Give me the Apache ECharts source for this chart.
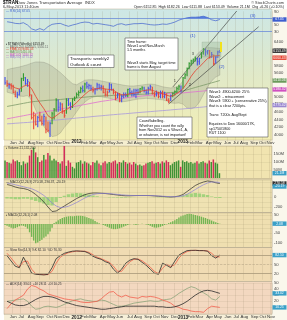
<!DOCTYPE html>
<html><head><meta charset="utf-8">
<script src="https://cdn.jsdelivr.net/npm/echarts@6/dist/echarts.min.js"></script>
<style>html,body{margin:0;padding:0;background:#fff;overflow:hidden}#c{width:287px;height:320px}</style>
</head><body><div id="c"></div>
<script>
// ---------------- data ----------------
const startWeek = '2011-05-06';
const weekCount = 131;
const monthNames = ['Jan','Feb','Mar','Apr','May','Jun','Jul','Aug','Sep','Oct','Nov','Dec'];

const highs = [5500,5420,5350,5340,5300,5150,5120,5200,5480,5600,
5500,5450,5380,5050,4600,4550,4500,4600,4500,4550,
4480,4350,4350,4600,4700,4950,4920,4850,4820,4650,
4950,4950,4850,4950,5000,5100,5150,5250,5280,5350,
5380,5330,5300,5250,5220,5350,5330,5300,5280,5200,
5150,5350,5330,5200,5120,5100,5080,5050,5100,5100,
5200,5220,5150,5200,5200,5200,5220,5260,5250,5180,
5250,5300,5250,5120,5150,5120,5150,5150,5120,5080,
4950,5050,5100,5150,5250,5300,5280,5500,5600,5750,
5880,5950,5980,6030,6000,6000,6150,6250,6230,6200,
6200,6150,6080,6050,6180,6200];
const lows = [5300,5250,5200,5180,5080,4980,4950,5020,5120,5400,
5300,5250,5000,4400,4150,4250,4200,4350,4250,4250,
4050,4080,3950,4280,4400,4600,4600,4620,4550,4450,
4550,4750,4650,4700,4880,4950,5000,5080,5100,5100,
5200,5180,5150,5100,5050,5150,5180,5150,5080,5000,
5000,5100,5150,5050,4900,4950,4850,4850,4950,4980,
4980,5050,5000,5000,4950,5050,5080,5150,5100,5050,
5050,5150,5050,4980,5000,4950,4950,4950,4950,4880,
4820,4880,4980,5020,5080,5150,5100,5200,5450,5520,
5700,5800,5850,5900,5800,5820,5980,6080,6050,6080,
5980,6000,5800,5850,6000,6120];
const closes = [5350,5280,5300,5250,5100,5000,5050,5120,5460,5480,
5330,5380,5040,4450,4500,4280,4450,4380,4300,4480,
4150,4120,4300,4550,4650,4900,4720,4800,4620,4500,
4900,4800,4720,4930,4950,5050,5100,5200,5150,5320,
5250,5280,5200,5150,5180,5300,5220,5250,5100,5050,
5100,5300,5180,5100,4950,5050,4900,5000,5050,5020,
5180,5100,5080,5050,5150,5100,5200,5220,5150,5100,
5200,5250,5080,5050,5080,5000,5100,5000,5050,4900,
4880,5020,5080,5120,5200,5250,5150,5480,5560,5720,
5850,5920,5950,5980,5900,5980,6120,6200,6150,6180,
6020,6080,5850,6020,6150,6180];
// Elder impulse colour of each weekly bar: g = green, r = red, b = blue
const impulse = 'brbrrrbbgg'+'bbrrrrbrrb'+'rrbgggbbrr'+'gbbgggggbg'+'bbbrbbbbrr'+'rbbrrbrbbb'+'gbbbbbggbb'+'bbrrbrbrbr'+'rbggggbggg'+'ggggbbggbb'+'rbrbbb';
const volumes = [55,50,48,45,58,52,55,50,40,52,45,48,
70,88,95,80,65,
50,55,72,58,78,
70,55,60,55,50,45,52,100,
38,55,48,35,30,
48,50,55,45,52,48,45,40,50,48,55,45,40,48,52,45,
50,48,52,55,45,50,48,55,50,45,48,42,50,45,40,42,38,40,45,48,
50,52,45,48,50,45,52,48,55,50,40,45,50,52,55,35,
55,50,52,48,50,45,48,52,45,50,52,48,45,55,50,58,48,45,15];
const hist3 = [-5,-10,-15,-20,-25,-22,-18,-12,-8,-10,-15,
-25,-45,-70,-90,-105,-100,-92,-85,-75,-68,-55,-40,-20,
5,12,20,28,33,37,40,42,43,42,43,45,45,
45,43,41,37,33,29,25,17,9,4,
0,-5,-10,-15,-20,-25,-28,-28,-26,-23,-19,-14,-9,
-5,-1,0,-3,-5,-3,0,2,0,-2,-5,
-10,-15,-19,-20,-18,-15,-10,-5,-2,
5,10,15,20,28,35,42,47,51,54,56,54,52,
49,46,43,40,36,33,28,24,19,14,10,5,2];

// indicator lines read every second week (weeks 1,3,5,...,105)
const rsi14 = [60,58,55,54,57,50,38,34,39,34,45,52,54,55,50,46,50,53,57,59,58,53,55,53,51,49,46,52,54,50,52,54,54,55,53,51,50,51,53,52,55,59,65,69,72,74,74,75,77,73,66,63,67];
const ema13 = [5330,5290,5220,5190,5260,5300,5200,5000,4830,4680,4500,4430,4500,4580,4630,4690,4750,4840,4950,5050,5140,5180,5200,5220,5190,5180,5160,5090,5040,5040,5070,5080,5100,5140,5160,5170,5140,5100,5070,5030,5000,5040,5110,5200,5350,5520,5660,5760,5870,5980,6040,6050,6060];
const ma50 = [4740,4760,4780,4800,4820,4840,4860,4870,4880,4890,4900,4905,4910,4920,4930,4940,4950,4960,4970,4980,4990,5000,5005,5010,5015,5020,5025,5030,5030,5035,5040,5045,5050,5055,5060,5070,5080,5085,5090,5095,5100,5110,5120,5140,5170,5200,5230,5260,5290,5320,5350,5380,5410];
const ma100 = [4420,4440,4460,4480,4500,4520,4540,4560,4580,4600,4615,4630,4650,4670,4690,4710,4730,4750,4770,4790,4810,4830,4850,4870,4885,4900,4915,4930,4945,4960,4975,4990,5000,5010,5020,5030,5040,5050,5060,5070,5075,5080,5085,5090,5100,5110,5120,5130,5140,5150,5160,5170,5180];
const ma200 = [4290,4295,4305,4312,4320,4326,4335,4345,4352,4360,4372,4380,4388,4398,4410,4418,4428,4440,4450,4458,4468,4480,4490,4498,4508,4518,4527,4536,4545,4553,4562,4572,4580,4590,4598,4606,4615,4624,4632,4640,4650,4660,4668,4676,4686,4696,4706,4716,4726,4738,4750,4762,4775];
const bbUpper = [5690,5720,5740,5760,5790,5820,5860,5890,5890,5880,5840,5780,5700,5620,5520,5420,5330,5300,5360,5420,5430,5430,5420,5400,5380,5360,5340,5320,5300,5280,5270,5270,5280,5295,5310,5320,5310,5280,5250,5230,5220,5230,5270,5400,5650,5850,6030,6150,6230,6260,6260,6250,6240];
const bbLower = [5110,5080,5040,5010,5000,5020,4900,4650,4420,4220,4080,3960,3980,4050,4200,4320,4450,4600,4750,4850,4930,4980,5000,4990,4970,4950,4920,4880,4860,4870,4890,4910,4930,4940,4950,4940,4930,4920,4910,4880,4830,4820,4830,4800,4700,4680,4720,4850,5050,5250,5400,5500,5550];
const macdLine = [250,230,200,180,170,150,110,50,-20,-100,-200,-290,-280,-230,-180,-130,-80,-30,10,45,70,80,80,75,70,60,50,40,30,25,25,28,30,30,30,28,22,15,10,5,0,5,20,50,110,170,230,270,300,320,310,285,270];
const macdSignal = [280,265,245,225,205,185,165,130,85,30,-40,-120,-180,-210,-205,-185,-150,-110,-65,-20,20,50,65,72,72,68,60,52,44,37,32,30,30,30,30,29,26,21,16,11,6,5,10,25,55,100,150,200,245,280,300,300,290];
const stoK = [80,62,45,40,75,50,22,18,17,16,18,40,70,80,88,92,95,96,95,94,88,78,72,68,60,55,35,22,35,55,65,70,68,58,48,35,22,18,55,48,40,62,82,90,97,98,98,97,97,95,80,72,82];
const stoD = [88,72,55,42,60,62,35,20,18,17,17,28,55,75,84,90,93,95,95,95,91,83,75,70,64,58,45,28,28,45,60,68,69,63,53,42,28,20,38,52,44,50,72,86,94,97,98,97,97,96,88,76,76];
const adx = [20,17,14,13,13,15,19,23,26,28,28,27,25,22,19,17,15,13,12,11,10,9,8,7,7,8,9,10,11,12,12,12,12,12,12,12,12,11,11,10,10,11,13,16,20,25,30,34,37,38,37,35,33];
const plusDI = [20,21,22,23,24,20,12,7,8,11,12,11,10,12,15,18,21,23,24,22,21,20,20,22,21,18,15,12,12,13,15,17,18,19,20,21,20,20,22,23,24,28,33,37,41,44,42,38,34,30,24,22,28];
const minusDI = [8,16,22,26,30,40,46,44,40,37,32,30,28,26,24,23,22,21,19,18,18,19,20,24,30,35,36,30,27,30,27,26,25,28,27,28,27,25,22,20,17,12,10,7,6,4,3,3,2,8,12,11,10];
// hand-drawn trend lines: [week index, price]
const trendUpper = [[82,5241],[116,7379]];
const trendLower = [[80,4803],[124,6802]];

// ---------------- build ----------------
const weeks = [];
{ const t0 = Date.parse(startWeek + 'T00:00:00Z');
  for (let i = 0; i < weekCount; i++) weeks.push(new Date(t0 + i * 7 * 86400000).toISOString().slice(0, 10)); }
const monthStart = weeks.map((w, i) => i > 0 && w.slice(5, 7) !== weeks[i - 1].slice(5, 7));
const labelFmt = w => { const m = +w.slice(5, 7) - 1; return m === 0 ? '{y|' + w.slice(0, 4) + '}' : monthNames[m]; };
const odd = arr => arr.map((v, k) => [2 * k + 1, v]);
const FONT = '"Liberation Sans", Arial, sans-serif';
const colorOf = { g: '#2f9a2f', r: '#e8483a', b: '#4650ea' };
const codes = ['g', 'r', 'b'];

const grids = [
  { left: 4, width: 268, top: 11.3, height: 131.5 },
  { left: 4, width: 268, top: 8.75, height: 32.5 },
  { left: 4, width: 268, top: 146, height: 32 },
  { left: 4, width: 268, top: 180, height: 32 },
  { left: 4, width: 268, top: 213, height: 34 },
  { left: 4, width: 268, top: 249.7, height: 30 },
  { left: 4, width: 268, top: 283, height: 31 }
];
const xAxes = grids.map((g, gi) => ({
  type: 'category', gridIndex: gi, data: weeks, boundaryGap: true,
  position: gi === 2 ? 'top' : 'bottom',
  axisLine: { show: false }, axisTick: { show: false },
  axisLabel: { show: gi === 2 || gi === 6, interval: i => monthStart[i], formatter: labelFmt,
    fontSize: 4.4, color: '#333', margin: 1.5, fontFamily: FONT,
    rich: { y: { fontSize: 4.6, fontWeight: 'bold', color: '#222', fontFamily: FONT } } },
  splitLine: { show: gi !== 1, interval: i => monthStart[i], lineStyle: { color: 'rgba(130,120,90,0.28)', width: 0.5 } }
}));
function yAx(gi, min, max, interval, shown, split) {
  return { type: 'value', gridIndex: gi, position: 'right', min, max, interval,
    axisLine: { show: false }, axisTick: { show: false },
    axisLabel: { fontSize: 4.2, color: '#444', margin: 2, fontFamily: FONT,
      formatter: v => (shown(v) ? String(v) : '') },
    splitLine: { show: !!split, lineStyle: { color: 'rgba(140,125,90,0.22)', width: 0.5 } } };
}
const yAxes = [
  yAx(0, 3800, 7200, 200, v => v >= 4000 && v <= 6400, false),
  yAx(1, 0, 100, 10, v => [90, 70, 50, 30].includes(v), false),
  yAx(2, 0, 100, 25, v => v > 0 && v < 100, true),
  yAx(3, -300, 340, 100, v => [200, 0, -200].includes(v), true),
  yAx(4, -125, 60, 25, v => [50, 0, -50, -100].includes(v), true),
  yAx(5, 0, 100, 10, v => [80, 50, 20].includes(v), false),
  yAx(6, 0, 50, 10, v => v > 0, true)
];
yAxes[2].axisLabel.formatter = v => (v > 0 && v < 100 ? (v * 2) + 'M' : '');

const lineS = (name, gi, data, color, w, z) => ({ name, type: 'line', xAxisIndex: gi, yAxisIndex: gi, data,
  showSymbol: false, symbol: 'none', lineStyle: { color, width: w }, z: z || 3, silent: true, animation: false });

const series = [
  { type: 'custom', xAxisIndex: 0, yAxisIndex: 0, data: [[0, 5000]], silent: true, z: 1, animation: false,
    renderItem: (p, api) => {
      const pts = bbUpper.map((v, k) => api.coord([2 * k + 1, v]));
      for (let k = bbLower.length - 1; k >= 0; k--) pts.push(api.coord([2 * k + 1, bbLower[k]]));
      return { type: 'polygon', shape: { points: pts }, style: { fill: 'rgba(110,115,100,0.2)', stroke: 'rgba(100,100,90,0.45)', lineWidth: 0.5 } };
    } },
  { type: 'custom', xAxisIndex: 1, yAxisIndex: 1, data: [[0, 50]], silent: true, z: 1, animation: false,
    renderItem: (p, api) => {
      const pts = rsi14.map((v, k) => api.coord([2 * k + 1, Math.max(v, 70)]));
      pts.push(api.coord([2 * (rsi14.length - 1) + 1, 70]));
      pts.push(api.coord([1, 70]));
      return { type: 'polygon', shape: { points: pts }, style: { fill: 'rgba(40,90,220,0.75)' } };
    } },
  Object.assign(lineS('rsi', 1, odd(rsi14), '#3d5ecf', 0.7, 2), {
    markLine: { silent: true, symbol: 'none', label: { show: false }, animation: false,
      lineStyle: { color: '#5f80d8', width: 0.7, type: 'solid' }, data: [{ yAxis: 70 }, { yAxis: 30 }] } }),
  lineS('ma200', 0, odd(ma200), '#a898dc', 0.8),
  lineS('ma100', 0, odd(ma100), '#e070d0', 0.8),
  lineS('ma50', 0, odd(ma50), '#7d9a6a', 0.8),
  lineS('trendU', 0, trendUpper, '#333', 0.6),
  lineS('trendL', 0, trendLower, '#333', 0.6),
  { type: 'custom', xAxisIndex: 0, yAxisIndex: 0, z: 4, animation: false, silent: true,
    data: highs.map((h, i) => [i, h, lows[i], closes[i], codes.indexOf(impulse[i])]),
    renderItem: (p, api) => {
      const i = api.value(0), ph = api.coord([i, api.value(1)]), pl = api.coord([i, api.value(2)]), pc = api.coord([i, api.value(3)]);
      const col = colorOf[codes[api.value(4)]];
      return { type: 'group', children: [
        { type: 'line', shape: { x1: ph[0], y1: ph[1], x2: pl[0], y2: pl[1] }, style: { stroke: col, lineWidth: 1.1 } },
        { type: 'line', shape: { x1: pc[0], y1: pc[1], x2: pc[0] + 1.2, y2: pc[1] }, style: { stroke: col, lineWidth: 0.8 } }
      ] };
    } },
  lineS('ema13', 0, odd(ema13), '#e5402e', 0.8, 5),
  { type: 'bar', xAxisIndex: 2, yAxisIndex: 2, data: volumes, barWidth: 1.5, silent: true, animation: false,
    itemStyle: { color: p => (p.dataIndex > 0 && closes[p.dataIndex] < closes[p.dataIndex - 1] ? '#d22d5a' : '#3f9236') } },
  { type: 'bar', xAxisIndex: 3, yAxisIndex: 3, data: macdLine.map((v, k) => [2 * k + 1, v - macdSignal[k]]), barWidth: 3.4,
    silent: true, animation: false, itemStyle: { color: '#a3d27c' } },
  lineS('macd', 3, odd(macdLine), '#2a2a2a', 0.7),
  lineS('signal', 3, odd(macdSignal), '#8b80d6', 0.7),
  { type: 'bar', xAxisIndex: 4, yAxisIndex: 4, data: hist3, barWidth: 1.4, silent: true, animation: false,
    itemStyle: { color: '#72b552' } },
  Object.assign(lineS('stoD', 5, odd(stoD), '#f0604a', 0.8), {
    markLine: { silent: true, symbol: 'none', label: { show: false }, animation: false,
      data: [{ yAxis: 80, lineStyle: { color: '#a89878', width: 0.8, type: 'solid' } },
             { yAxis: 50, lineStyle: { color: '#b8a888', width: 0.6, type: 'dashed' } },
             { yAxis: 20, lineStyle: { color: '#a89878', width: 0.8, type: 'solid' } }] } }),
  lineS('stoK', 5, odd(stoK), '#2a2a2a', 0.8),
  lineS('plusDI', 6, odd(plusDI), '#8ba37a', 0.8),
  lineS('minusDI', 6, odd(minusDI), '#f2604e', 0.8),
  lineS('adx', 6, odd(adx), '#2a2a2a', 0.8)
];

// ---------------- decoration ----------------
const els = [];
const bg = (x, y, w, h, fill) => els.push({ type: 'rect', shape: { x, y, width: w, height: h }, style: { fill }, z: -10, silent: true });
bg(0, 0, 287, 320, '#ffffff');
bg(4, 9, 268, 131, new echarts.graphic.LinearGradient(0, 0, 0, 1, [
  { offset: 0, color: '#cde7e6' }, { offset: 0.45, color: '#dfe9cb' }, { offset: 1, color: '#f3eeb3' }]));
bg(4, 140, 268, 6, '#f5eed0');
bg(4, 146, 268, 33, '#f1e4b0');
bg(4, 179, 268, 33.5, '#efe2b2');
bg(4, 212.5, 268, 35, '#efdfb0');
bg(4, 247.5, 268, 34, '#f0dbb3');
bg(4, 281.5, 268, 33, '#f3d8c0');
bg(4, 314.5, 268, 5.5, '#f6efd8');
bg(272, 9, 15, 311, '#faf7ec');
[[9, 131], [146, 33], [179, 33.5], [212.5, 35], [247.5, 34], [281.5, 33]].forEach(([y, h]) =>
  els.push({ type: 'rect', shape: { x: 4, y, width: 268, height: h }, style: { fill: 'none', stroke: '#b9ad90', lineWidth: 0.5 }, z: -5, silent: true }));

const txt = (x, y, text, size, fill, opts) => els.push(Object.assign({ type: 'text', x, y, z: 100, silent: true,
  style: Object.assign({ text, font: size + 'px ' + FONT, fill: fill || '#111' }, opts || {}) }));
// header
txt(3, 0.5, '$TRAN', 4.6, '#000', { font: 'bold 4.6px ' + FONT });
txt(17, 0.8, 'Dow Jones Transportation Average  INDX', 4.2, '#333');
txt(3, 5.3, '6-May-2013 11:40am', 3.8, '#333');
txt(284, 0.8, '© StockCharts.com', 3.8, '#333', { align: 'right' });
txt(284, 5.3, 'Open 6152.85  High 6182.26  Low 6111.88  Last 6153.49  Volume 21.1M  Chg +6.26 (+0.10%)', 3.6, '#222', { align: 'right' });
// panel legends
txt(6, 9.8, '— RSI(14) 67.05', 3.2, '#3d5ecf');
txt(6, 42.4, '▪ $TRAN (Weekly) 6153.49', 3.2, '#222');
txt(6, 45.2, '— BB(20,2.0) 6240.05, 5550.11', 3.0, '#666');
txt(6, 47.9, '— EMA(13) 6060.43', 3.0, '#e5402e');
txt(6, 50.6, '— MA(50) 5410.06', 3.0, '#5f8a4f');
txt(6, 53.3, '— MA(100) 5180.32', 3.0, '#d050c0');
txt(6, 56.0, '— MA(200) 4775.42', 3.0, '#9a88d0');
txt(6, 146.6, '▪ Volume 21,132,200', 3.2, '#333');
txt(6, 180.5, '— MACD(12,26,9) 270.18, 290.37, -20.19', 3.2, '#333');
txt(6, 213.6, '▪ MACD(12,26,1) 2.08', 3.2, '#333');
txt(6, 248.2, '— Slow Sto(14,3) %K 82.10  %D 76.30', 3.2, '#333');
txt(6, 282.2, '— ADX(14) 33.02  +DI 28.11  -DI 10.25', 3.2, '#333');

// annotation boxes
function box(x, y, w, h, lines, fs, lh) {
  els.push({ type: 'rect', shape: { x, y, width: w, height: h }, style: { fill: '#fff', stroke: '#555', lineWidth: 0.6 }, z: 100, silent: true });
  els.push({ type: 'text', x: x + 2, y: y + 1.6, z: 101, silent: true,
    style: { text: lines.join('\n'), font: fs + 'px ' + FONT, fill: '#111', lineHeight: lh } });
}
box(68, 55, 46, 12.5, ['Transports: weekly2', 'Outlook & count'], 4.4, 5.2);
box(125, 38, 53, 32, ['Time frame:', 'Wave1 and Nov-March', '1.5 months', '', '', 'Wave3 starts May, target time', 'frame is then August'], 3.7, 4.2);
box(207, 88, 61, 49, ['Wave1: 4900-6200: 25%', 'Wave2: - retracement', 'Wave3: 5900 + (conservative 25%),', 'that is a clear 7200pts.', '', 'Trans: 7200s Aug/Sept', '', 'Equates to Dow 16000/17K,', 'sp1750/1800', 'RUT 1100'], 3.7, 4.6);
box(137, 117, 55, 21.5, ['Count/labelling.', 'Whether you count the rally', 'from Nov2012 as a Wave1, A,', 'or whatever, is not important!'], 3.7, 4.7);
// wave labels
txt(190, 34, '(1)', 4.4, '#3050d0');
txt(250, 14, '(3)', 4.4, '#3050d0');
txt(219, 65, '(2)', 4.4, '#3050d0');
txt(174, 80, '1', 3.2, '#111');
txt(189, 84, '2', 3.2, '#111');
txt(192, 53, '3', 3.2, '#111');
// highlight box and yellow marker near the latest bars
els.push({ type: 'rect', shape: { x: 202, y: 42, width: 19, height: 15 }, style: { fill: 'rgba(150,180,150,0.35)', stroke: 'rgba(120,140,120,0.5)', lineWidth: 0.4 }, z: 6, silent: true });
els.push({ type: 'rect', shape: { x: 220, y: 42, width: 2, height: 10 }, style: { fill: '#f2e21c' }, z: 7, silent: true });

const chart = echarts.init(document.getElementById('c'), null, { width: 287, height: 320 });
chart.setOption({ animation: false, grid: grids, xAxis: xAxes, yAxis: yAxes, series, graphic: { elements: els } });

// value tags on the right axis, placed through the axes' own scales
const tags = [];
function tag(yAxisIndex, value, text, fill) {
  const y = chart.convertToPixel({ yAxisIndex }, value);
  tags.push({ type: 'rect', shape: { x: 272.5, y: y - 2.2, width: 14, height: 4.4 }, style: { fill }, z: 110, silent: true });
  tags.push({ type: 'text', x: 279.5, y: y, z: 111, silent: true,
    style: { text, font: '3.4px ' + FONT, fill: '#fff', align: 'center', verticalAlign: 'middle' } });
}
tag(1, rsi14[rsi14.length - 1], '67.05', '#3d5ecf');
tag(0, closes[closes.length - 1], '6153.49', '#333');
tag(0, ema13[ema13.length - 1] - 60, '6060.43', '#e5402e');
tag(0, ma50[ma50.length - 1], '5410.06', '#6a9a5a');
tag(0, ma100[ma100.length - 1], '5180.32', '#d050c0');
tag(0, ma200[ma200.length - 1], '4775.42', '#9a88d0');
tag(2, volumes[volumes.length - 1], '21.1M', '#3aa0c8');
tag(3, macdLine[macdLine.length - 1], '270.18', '#333');
tag(3, macdLine[macdLine.length - 1] - 60, '-20.19', '#3aa0c8');
tag(4, hist3[hist3.length - 1], '2.08', '#3aa0c8');
tag(5, stoK[stoK.length - 1], '82.10', '#3aa0c8');
tag(6, adx[adx.length - 1], '33.02', '#3aa0c8');
tag(6, minusDI[minusDI.length - 1], '10.25', '#3aa0c8');
chart.setOption({ graphic: { elements: els.concat(tags) } });
</script>
</body></html>
